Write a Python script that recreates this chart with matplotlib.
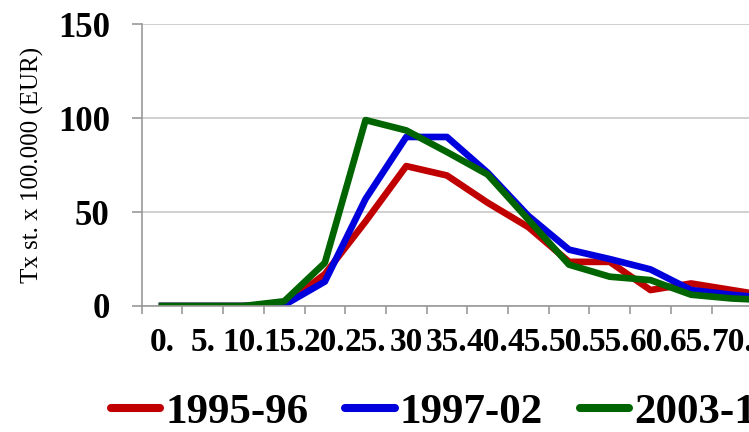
import numpy as np
import matplotlib.pyplot as plt

# age groups (labels as they appear, truncated in the source chart)
age_labels = ['0.', '5.', '10.', '15.', '20.', '25.', '30', '35.', '40.', '45.',
              '50.', '55.', '60.', '65.', '70.', '75.']
series_names = ['1995-96', '1997-02', '2003-10']
rate_1995 = [0, 0, 0, 0.5, 17, 45, 74.5, 69.5, 55, 42, 23.5, 23.5, 8.5, 12, 8.5, 5]
rate_1997 = [0, 0, 0, 0.5, 13, 57, 90, 90, 71, 48, 30, 25, 19.5, 8.5, 6, 4]
rate_2003 = [0, 0, 0, 2.5, 23, 99, 93.5, 82, 70, 46, 22, 15.6, 13.8, 6, 4, 3]
colors = ['#C00000', '#0000DD', '#006400']

W, H = 749, 432
fig = plt.figure(figsize=(W / 100, H / 100), dpi=100)
x0, x1 = 141.7, 749
ytop, ybot = 24.3, 306
ax = fig.add_axes([x0 / W, 1 - ybot / H, (x1 - x0) / W, (ybot - ytop) / H])

x = np.arange(len(age_labels))
handles = []
for vals, c, name in zip([rate_1995, rate_1997, rate_2003], colors, series_names):
    ax.plot(x, vals, color=c, lw=4.8, solid_joinstyle='round')
    # legend handle (thicker, round caps as in the original)
    h, = ax.plot([], [], color=c, lw=5.8, solid_capstyle='round', label=name)
    handles.append(h)

ax.set_xticks(x)
ax.set_xticklabels(age_labels)
ax.set_xticks(np.arange(len(age_labels) + 1) - 0.5, minor=True)
ax.set_yticks([0, 50, 100, 150])

# category width in pixels -> the chart is cut at the right edge
cw = 40.7
ax.set_xlim(-0.5, (x1 - x0) / cw - 0.5)
ax.set_ylim(0, 150)
ax.grid(axis='y', color='#c8c8c8', lw=1.2)
ax.set_axisbelow(True)
for s in ['top', 'right']:
    ax.spines[s].set_visible(False)
for s in ['left', 'bottom']:
    ax.spines[s].set_color('#999999')
    ax.spines[s].set_linewidth(1.2)

ax.tick_params(axis='x', which='major', length=0, pad=15)
ax.tick_params(axis='x', which='minor', length=6, color='#999999', width=1.2)
ax.tick_params(axis='y', length=7, color='#999999', width=1.2, pad=16)

for lab in ax.get_xticklabels():
    lab.set_fontfamily('Liberation Serif')
    lab.set_fontweight('bold')
    lab.set_fontsize(24)
for lab in ax.get_yticklabels():
    lab.set_fontfamily('Liberation Serif')
    lab.set_fontweight('bold')
    lab.set_fontsize(25)

ax.set_ylabel('Tx st. x 100.000 (EUR)', fontfamily='Liberation Serif', fontsize=18)
ax.yaxis.set_label_coords(-(x0 - 44) / (x1 - x0), 0.5)

fig.legend(handles=handles, loc='center left', bbox_to_anchor=(110.7 / W, 1 - 412 / H),
           ncol=3, frameon=False, borderpad=0, borderaxespad=0,
           handlelength=1.15, handletextpad=0.12, columnspacing=0.85,
           prop={'family': 'Liberation Serif', 'weight': 'bold', 'size': 31})

fig.savefig('out.png', dpi=100)
